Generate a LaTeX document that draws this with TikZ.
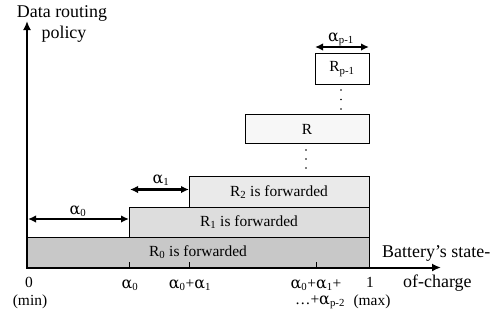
\documentclass[tikz,border=0pt]{standalone}
\usepackage{fontspec}
\setmainfont{Liberation Serif}
\newfontfamily\alfont{DejaVu Serif}
\usetikzlibrary{arrows.meta}
\newcommand{\sbs}[1]{\textsubscript{#1}}
\newcommand{\al}{{\alfont\fontsize{16}{18}\selectfont α}}
\definecolor{gA}{RGB}{200,200,200}
\definecolor{gB}{RGB}{221,221,221}
\definecolor{gC}{RGB}{234,234,234}
\definecolor{gD}{RGB}{247,247,247}
\begin{document}
\begin{tikzpicture}[x=1bp,y=-1bp,
  axis/.style={line width=2bp,-{Latex[length=9bp,width=8bp]}},
  dim/.style={line width=2.2bp,{Latex[length=8bp,width=7.5bp]}-{Latex[length=8bp,width=7.5bp]}},
  bar/.style={draw,line width=0.8bp},
  boxtxt/.style={font=\fontsize{15.5}{17}\selectfont,inner sep=0pt},
  bigtxt/.style={font=\fontsize{18}{20}\selectfont,inner sep=0pt,anchor=base},
  ticktxt/.style={font=\fontsize{15.5}{17}\selectfont,inner sep=0pt,anchor=base},
  dot/.style={circle,fill,inner sep=0pt,minimum size=1.6bp}]
\useasboundingbox (0,0) rectangle (503,320);
% bars
\draw[bar,fill=gA] (27,237) rectangle (369,267);
\draw[bar,fill=gB] (129,207) rectangle (369,237);
\draw[bar,fill=gC] (189,176.5) rectangle (369,207);
\draw[bar,fill=gD] (245,114) rectangle (369,143.5);
\draw[bar,fill=white] (315,53) rectangle (369,84);
\node[boxtxt] (r0) at (198,252) {R\sbs{0} is forwarded};
\node[boxtxt] (r1) at (249,222) {R\sbs{1} is forwarded};
\node[boxtxt] (r2) at (279,192) {R\sbs{2} is forwarded};
\node[boxtxt] (r) at (307,129) {R};
\node[boxtxt] (rp) at (342,69) {R\sbs{p-1}};
% dots
\foreach \y in {90,99.5,109} \node[dot] at (341,\y) {};
\foreach \y in {150,159,168} \node[dot] at (306,\y) {};
% axes
\coordinate (o) at (27,268.5);
\coordinate (ytop) at (27,21);
\coordinate (xend) at (441,267.5);
\draw[axis] (o) -- (ytop);
\draw[axis] (26,267.5) -- (xend);
% ticks
\foreach \x in {129,189,316,369} \draw[line width=0.9bp] (\x,262) -- (\x,267.5);
% dimension arrows
\coordinate (a0l) at (28,219); \coordinate (a0r) at (129,219);
\coordinate (a1l) at (130,189.5); \coordinate (a1r) at (189,189.5);
\coordinate (apl) at (315,47); \coordinate (apr) at (369,47);
\draw[dim] (a0l) -- (a0r);
\draw[dim] (a1l) -- (a1r);
\draw[dim] (apl) -- (apr);
\node[ticktxt] (la0) at (78,214) {\al\sbs{0}};
\node[ticktxt] (la1) at (161,183) {\al\sbs{1}};
\node[ticktxt] (lap) at (341,41) {\al\sbs{p-1}};
% axis labels
\node[bigtxt] (yl1) at (62,17) {Data routing};
\node[bigtxt] (yl2) at (64,38) {policy};
\node[bigtxt,anchor=base west] (xl1) at (382,257) {Battery’s state-};
\node[bigtxt,anchor=base west] (xl2) at (403,287) {of-charge};
% tick labels
\node[ticktxt] (t0) at (29,287) {0};
\node[ticktxt] (tmin) at (30,305) {(min)};
\node[ticktxt] (ta0) at (130,288) {\al\sbs{0}};
\node[ticktxt] (ta01) at (190,288) {\al\sbs{0}+\al\sbs{1}};
\node[ticktxt] (ta01p) at (316,288) {\al\sbs{0}+\al\sbs{1}+};
\node[ticktxt] (tdots) at (320,304) {…+\al\sbs{p-2}};
\node[ticktxt] (t1) at (370,287) {1};
\node[ticktxt] (tmax) at (372,305) {(max)};
\end{tikzpicture}
\end{document}
